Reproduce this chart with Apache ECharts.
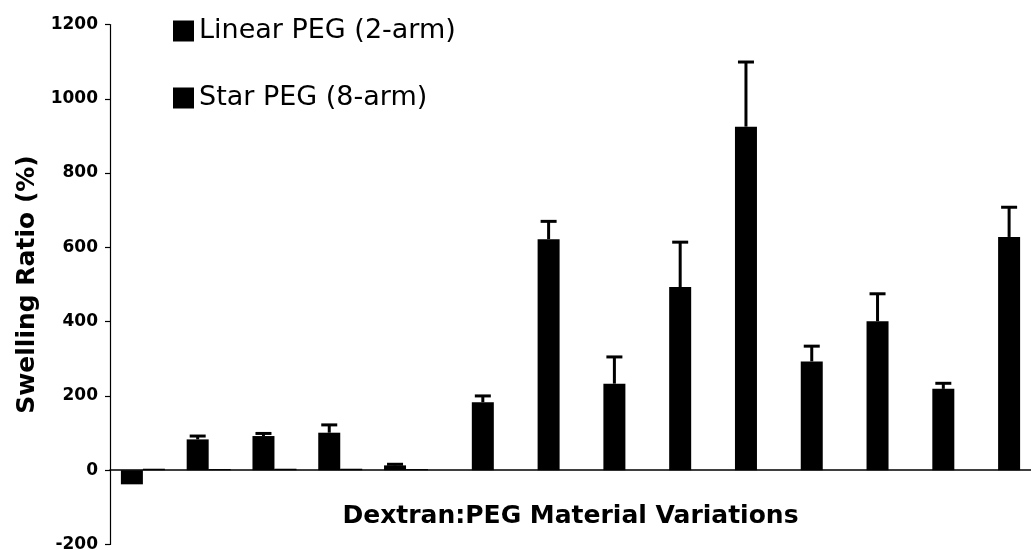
<!DOCTYPE html>
<html>
<head>
<meta charset="utf-8">
<script src="https://cdn.jsdelivr.net/npm/echarts@6/dist/echarts.min.js"></script>
<style>
  html, body { margin: 0; padding: 0; background: #fff; }
  #chart { width: 1031px; height: 550px; }
</style>
</head>
<body>
<div id="chart"></div>
<script>
// Dextran:PEG material variations (x labels are not printed on the axis)
const categories = ['V1', 'V2', 'V3', 'V4', 'V5', 'V6', 'V7', 'V8', 'V9', 'V10', 'V11', 'V12', 'V13', 'V14'];

// Swelling ratio (%) and upper standard deviation for each crosslinker
const linearPEG = [-38, 83, 92, 101, 13, null, null, null, null, null, null, null, null, null];
const linearErr = [0, 9, 7, 21, 3, null, null, null, null, null, null, null, null, null];
const starPEG = [4, 3, 4, 4, 3, 183, 622, 233, 493, 925, 293, 401, 219, 628];
const starErr = [0, 0, 0, 0, 0, 17, 48, 72, 121, 174, 41, 74, 15, 80];

const yTicks = { min: -200, max: 1200, step: 200 };

const BAR_W = 22;

function errorData(values, errs) {
  const out = [];
  values.forEach((v, i) => {
    if (v !== null && errs[i]) out.push([i, v, errs[i]]);
  });
  return out;
}

// Upper-only error bar with a flat cap, shifted onto its bar within the group
function errorRenderer(offset) {
  return function (params, api) {
    const idx = api.value(0);
    const v = api.value(1);
    const e = api.value(2);
    const base = api.coord([idx, v]);
    const top = api.coord([idx, v + e]);
    const x = base[0] + offset;
    return {
      type: 'group',
      children: [
        { type: 'line', shape: { x1: x, y1: base[1], x2: x, y2: top[1] },
          style: { stroke: '#000', lineWidth: 3 } },
        { type: 'line', shape: { x1: x - 8, y1: top[1], x2: x + 8, y2: top[1] },
          style: { stroke: '#000', lineWidth: 3 } }
      ]
    };
  };
}

const chart = echarts.init(document.getElementById('chart'), null, { renderer: 'canvas' });

chart.setOption({
  animation: false,
  backgroundColor: '#fff',
  textStyle: { fontFamily: 'DejaVu Sans', color: '#000' },
  grid: { left: 110, right: 0, top: 24.5, bottom: 5.5, containLabel: false, outerBoundsMode: 'none' },
  legend: {
    orient: 'vertical',
    left: 168,
    top: 11,
    icon: 'rect',
    itemWidth: 21,
    itemHeight: 21,
    itemGap: 37,
    selectedMode: false,
    textStyle: { fontFamily: 'DejaVu Sans', fontSize: 27, color: '#000', lineHeight: 30 },
    data: ['Linear PEG (2-arm)', 'Star PEG (8-arm)']
  },
  xAxis: {
    type: 'category',
    data: categories,
    boundaryGap: true,
    axisLine: { onZero: true, lineStyle: { color: '#000', width: 1.5 } },
    axisTick: { show: false },
    axisLabel: { show: false },
    splitLine: { show: false },
    name: 'Dextran:PEG Material Variations',
    nameLocation: 'middle',
    nameGap: -41,
    nameTextStyle: { fontFamily: 'DejaVu Sans', fontWeight: 'bold', fontSize: 25, color: '#000' }
  },
  yAxis: {
    type: 'value',
    min: yTicks.min,
    max: yTicks.max,
    interval: yTicks.step,
    axisLine: { show: true, lineStyle: { color: '#000', width: 1.2 } },
    axisTick: { show: true, length: 5, lineStyle: { color: '#000', width: 1.2 } },
    axisLabel: {
      fontFamily: 'DejaVu Sans', fontWeight: 'bold', fontSize: 17, color: '#000', margin: 12,
      formatter: (v) => String(v)
    },
    splitLine: { show: false },
    name: 'Swelling Ratio (%)',
    nameLocation: 'middle',
    nameRotate: 90,
    nameGap: 66,
    nameTextStyle: { fontFamily: 'DejaVu Sans', fontWeight: 'bold', fontSize: 25, color: '#000' }
  },
  series: [
    {
      name: 'Linear PEG (2-arm)',
      type: 'bar',
      data: linearPEG,
      barWidth: BAR_W,
      barGap: '0%',
      itemStyle: { color: '#000' }
    },
    {
      name: 'Star PEG (8-arm)',
      type: 'bar',
      data: starPEG,
      barWidth: BAR_W,
      barGap: '0%',
      itemStyle: { color: '#000' }
    },
    {
      type: 'custom',
      renderItem: errorRenderer(-BAR_W / 2),
      data: errorData(linearPEG, linearErr),
      encode: { x: 0, y: 1 },
      z: 5,
      silent: true
    },
    {
      type: 'custom',
      renderItem: errorRenderer(BAR_W / 2),
      data: errorData(starPEG, starErr),
      encode: { x: 0, y: 1 },
      z: 5,
      silent: true
    }
  ]
});
</script>
</body>
</html>
